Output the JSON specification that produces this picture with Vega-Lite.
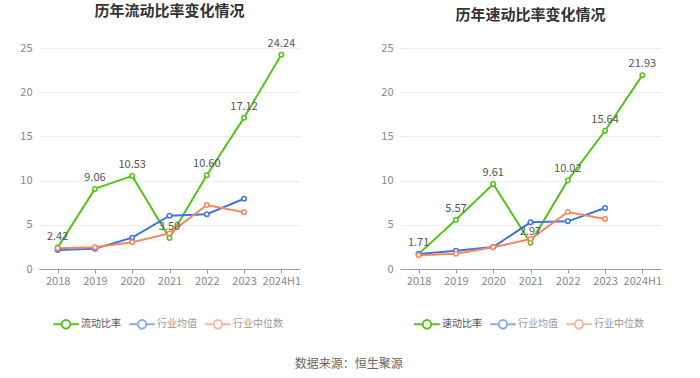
{
  "$schema": "https://vega.github.io/schema/vega-lite/v6.json",
  "padding": {"left": 19, "top": 3, "right": 5, "bottom": 5},
  "background": "white",
  "config": {
    "font": "Noto Sans CJK SC",
    "view": {"stroke": null},
    "axisX": {"labelFontSize": 11, "labelColor": "#888", "domainColor": "#999", "tickColor": "#999", "tickSize": 4, "labelPadding": 2, "grid": false, "title": null, "labelAngle": 0},
    "axisY": {"labelFontSize": 11, "labelColor": "#888", "domain": false, "ticks": false, "gridColor": "#ececec", "labelPadding": 7, "title": null, "tickCount": 5, "values": [0, 5, 10, 15, 20, 25]},
    "legend": {"orient": "bottom", "direction": "horizontal", "title": null, "labelFontSize": 10, "labelColor": "#888", "symbolType": "M-1.5,0L-0.5,0M0.5,0L1.5,0M-0.5,0A0.5,0.5,0,1,1,0.5,0A0.5,0.5,0,1,1,-0.5,0", "symbolSize": 290, "symbolStrokeWidth": 2, "symbolFillColor": "#fff", "labelOffset": 5, "columnPadding": 4, "offset": 28, "layout": {"bottom": {"anchor": "middle"}}}
  },
  "title": {"text": "数据来源：恒生聚源", "orient": "bottom", "anchor": "middle", "fontSize": 12, "color": "#666", "fontWeight": "normal", "offset": 26, "dx": 8},
  "resolve": {"scale": {"color": "independent"}, "legend": {"color": "independent"}},
  "spacing": 79,
  "hconcat": [
    {
      "title": {"text": "历年流动比率变化情况", "fontSize": 15, "fontWeight": "bold", "color": "#333", "offset": 19, "anchor": "middle"},
      "width": 261,
      "height": 221,
      "data": {"values": [
        {"year": "2018", "series": "流动比率", "value": 2.42},
        {"year": "2019", "series": "流动比率", "value": 9.06},
        {"year": "2020", "series": "流动比率", "value": 10.53},
        {"year": "2021", "series": "流动比率", "value": 3.50},
        {"year": "2022", "series": "流动比率", "value": 10.60},
        {"year": "2023", "series": "流动比率", "value": 17.12},
        {"year": "2024H1", "series": "流动比率", "value": 24.24},
        {"year": "2018", "series": "行业均值", "value": 2.15},
        {"year": "2019", "series": "行业均值", "value": 2.3},
        {"year": "2020", "series": "行业均值", "value": 3.55},
        {"year": "2021", "series": "行业均值", "value": 6.03},
        {"year": "2022", "series": "行业均值", "value": 6.19},
        {"year": "2023", "series": "行业均值", "value": 7.95},
        {"year": "2018", "series": "行业中位数", "value": 2.34},
        {"year": "2019", "series": "行业中位数", "value": 2.45},
        {"year": "2020", "series": "行业中位数", "value": 3.02},
        {"year": "2021", "series": "行业中位数", "value": 4.03},
        {"year": "2022", "series": "行业中位数", "value": 7.24},
        {"year": "2023", "series": "行业中位数", "value": 6.41}
      ]},
      "encoding": {
        "x": {"field": "year", "type": "ordinal", "scale": {"type": "point", "padding": 0.5}, "sort": ["2018","2019","2020","2021","2022","2023","2024H1"]},
        "y": {"field": "value", "type": "quantitative", "scale": {"domain": [0, 25], "nice": false}}
      },
      "layer": [
        {
          "mark": {"type": "line", "strokeWidth": 2},
          "encoding": {
            "color": {"field": "series", "type": "nominal", "scale": {"domain": ["流动比率", "行业均值", "行业中位数"], "range": ["#52c41a", "#3f74e6", "#f5875f"]},
              "legend": {"encode": {"labels": {"update": {"fill": {"signal": "datum.label === '流动比率' ? '#555' : '#999'"}}}, "symbols": {"update": {"opacity": {"signal": "datum.label === '流动比率' ? 1 : 0.6"}}}}}}
          }
        },
        {
          "mark": {"type": "point", "filled": false, "fill": "#fff", "size": 20, "strokeWidth": 1.5, "opacity": 1},
          "encoding": {"color": {"field": "series", "type": "nominal", "scale": {"domain": ["流动比率", "行业均值", "行业中位数"], "range": ["#52c41a", "#3f74e6", "#f5875f"]}}}
        },
        {
          "transform": [{"filter": "datum.series === '流动比率'"}],
          "mark": {"type": "text", "dy": -11, "fontSize": 11, "color": "#555"},
          "encoding": {"text": {"field": "value", "type": "quantitative", "format": ".2f"}}
        }
      ]
    },
    {
      "title": {"text": "历年速动比率变化情况", "fontSize": 15, "fontWeight": "bold", "color": "#333", "offset": 19, "anchor": "middle"},
      "width": 261,
      "height": 221,
      "data": {"values": [
        {"year": "2018", "series": "速动比率", "value": 1.71},
        {"year": "2019", "series": "速动比率", "value": 5.57},
        {"year": "2020", "series": "速动比率", "value": 9.61},
        {"year": "2021", "series": "速动比率", "value": 2.97},
        {"year": "2022", "series": "速动比率", "value": 10.02},
        {"year": "2023", "series": "速动比率", "value": 15.64},
        {"year": "2024H1", "series": "速动比率", "value": 21.93},
        {"year": "2018", "series": "行业均值", "value": 1.70},
        {"year": "2019", "series": "行业均值", "value": 2.07},
        {"year": "2020", "series": "行业均值", "value": 2.49},
        {"year": "2021", "series": "行业均值", "value": 5.28},
        {"year": "2022", "series": "行业均值", "value": 5.39},
        {"year": "2023", "series": "行业均值", "value": 6.9},
        {"year": "2018", "series": "行业中位数", "value": 1.55},
        {"year": "2019", "series": "行业中位数", "value": 1.73},
        {"year": "2020", "series": "行业中位数", "value": 2.45},
        {"year": "2021", "series": "行业中位数", "value": 3.39},
        {"year": "2022", "series": "行业中位数", "value": 6.45},
        {"year": "2023", "series": "行业中位数", "value": 5.66}
      ]},
      "encoding": {
        "x": {"field": "year", "type": "ordinal", "scale": {"type": "point", "padding": 0.5}, "sort": ["2018","2019","2020","2021","2022","2023","2024H1"]},
        "y": {"field": "value", "type": "quantitative", "scale": {"domain": [0, 25], "nice": false}}
      },
      "layer": [
        {
          "mark": {"type": "line", "strokeWidth": 2},
          "encoding": {
            "color": {"field": "series", "type": "nominal", "scale": {"domain": ["速动比率", "行业均值", "行业中位数"], "range": ["#52c41a", "#3f74e6", "#f5875f"]},
              "legend": {"encode": {"labels": {"update": {"fill": {"signal": "datum.label === '速动比率' ? '#555' : '#999'"}}}, "symbols": {"update": {"opacity": {"signal": "datum.label === '速动比率' ? 1 : 0.6"}}}}}}
          }
        },
        {
          "mark": {"type": "point", "filled": false, "fill": "#fff", "size": 20, "strokeWidth": 1.5, "opacity": 1},
          "encoding": {"color": {"field": "series", "type": "nominal", "scale": {"domain": ["速动比率", "行业均值", "行业中位数"], "range": ["#52c41a", "#3f74e6", "#f5875f"]}}}
        },
        {
          "transform": [{"filter": "datum.series === '速动比率'"}],
          "mark": {"type": "text", "dy": -11, "fontSize": 11, "color": "#555"},
          "encoding": {"text": {"field": "value", "type": "quantitative", "format": ".2f"}}
        }
      ]
    }
  ]
}
